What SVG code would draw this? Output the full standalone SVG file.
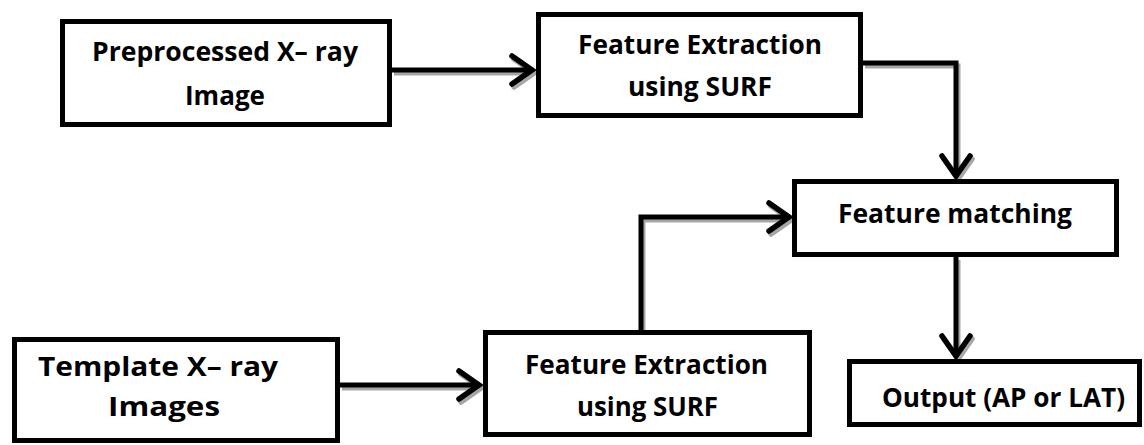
<svg xmlns="http://www.w3.org/2000/svg" width="1144" height="445" viewBox="0 0 1144 445">
  <style>
    .box { fill: #ffffff; stroke: #000000; stroke-width: 5; }
    .lbl { font-family: "Open Sans", "Liberation Sans", sans-serif; font-weight: 700; font-size: 27px; fill: #000000; }
    .ln { fill: none; stroke: #000000; stroke-width: 5; stroke-linejoin: miter; }
    .sh { fill: none; stroke: #a6a6a6; stroke-width: 5; stroke-linejoin: miter; }
  </style>
  <defs>
    <marker id="ah" markerUnits="userSpaceOnUse" markerWidth="40" markerHeight="40" viewBox="-30 -20 40 40" refX="0" refY="0" orient="auto">
      <path d="M -21 -14 L -1 0 L -21 14" fill="none" stroke="#000000" stroke-width="5.5" stroke-linecap="round"/>
    </marker>
    <marker id="ahs" markerUnits="userSpaceOnUse" markerWidth="40" markerHeight="40" viewBox="-30 -20 40 40" refX="0" refY="0" orient="auto">
      <path d="M -21 -14 L -1 0 L -21 14" fill="none" stroke="#a6a6a6" stroke-width="5.5" stroke-linecap="round"/>
    </marker>
  </defs>
  <rect width="1144" height="445" fill="#ffffff"/>

  <g id="connectors">
    <g transform="translate(2,3)">
      <path class="sh" d="M 392 70 L 533 70" marker-end="url(#ahs)"/>
      <path class="sh" d="M 863 63 L 956 63 L 956 177" marker-end="url(#ahs)"/>
      <path class="sh" d="M 340 385 L 480 385" marker-end="url(#ahs)"/>
      <path class="sh" d="M 641 330 L 641 217 L 790 217" marker-end="url(#ahs)"/>
      <path class="sh" d="M 956 257 L 956 357" marker-end="url(#ahs)"/>
    </g>
    <path class="ln" d="M 392 70 L 533 70" marker-end="url(#ah)"/>
    <path class="ln" d="M 863 63 L 956 63 L 956 177" marker-end="url(#ah)"/>
    <path class="ln" d="M 340 385 L 480 385" marker-end="url(#ah)"/>
    <path class="ln" d="M 641 330 L 641 217 L 790 217" marker-end="url(#ah)"/>
    <path class="ln" d="M 956 257 L 956 357" marker-end="url(#ah)"/>
  </g>

  <g id="node-preprocessed">
    <rect class="box" x="62.5" y="21.5" width="327" height="103"/>
    <text class="lbl" x="92" y="61" textLength="266" lengthAdjust="spacingAndGlyphs">Preprocessed X– ray</text>
    <text class="lbl" x="185" y="105" textLength="80" lengthAdjust="spacingAndGlyphs">Image</text>
  </g>

  <g id="node-feature-extraction-top">
    <rect class="box" x="538.5" y="14.5" width="322" height="101"/>
    <text class="lbl" x="578" y="54" textLength="244" lengthAdjust="spacingAndGlyphs">Feature Extraction</text>
    <text class="lbl" x="628" y="96" textLength="144" lengthAdjust="spacingAndGlyphs">using SURF</text>
  </g>

  <g id="node-feature-matching">
    <rect class="box" x="794.5" y="181.5" width="322" height="73"/>
    <text class="lbl" x="838" y="223" textLength="234" lengthAdjust="spacingAndGlyphs">Feature matching</text>
  </g>

  <g id="node-template">
    <rect class="box" x="14.5" y="339.5" width="323" height="101"/>
    <text class="lbl" x="38" y="376" textLength="240" lengthAdjust="spacingAndGlyphs">Template X– ray</text>
    <text class="lbl" x="108" y="416" textLength="112" lengthAdjust="spacingAndGlyphs">Images</text>
  </g>

  <g id="node-feature-extraction-bottom">
    <rect class="box" x="485.5" y="332.5" width="324" height="102"/>
    <text class="lbl" x="525" y="374" textLength="243" lengthAdjust="spacingAndGlyphs">Feature Extraction</text>
    <text class="lbl" x="577" y="416" textLength="141" lengthAdjust="spacingAndGlyphs">using SURF</text>
  </g>

  <g id="node-output">
    <rect class="box" x="849.5" y="361.5" width="290" height="63"/>
    <text class="lbl" x="882" y="407" textLength="243" lengthAdjust="spacingAndGlyphs">Output (AP or LAT)</text>
  </g>
</svg>
